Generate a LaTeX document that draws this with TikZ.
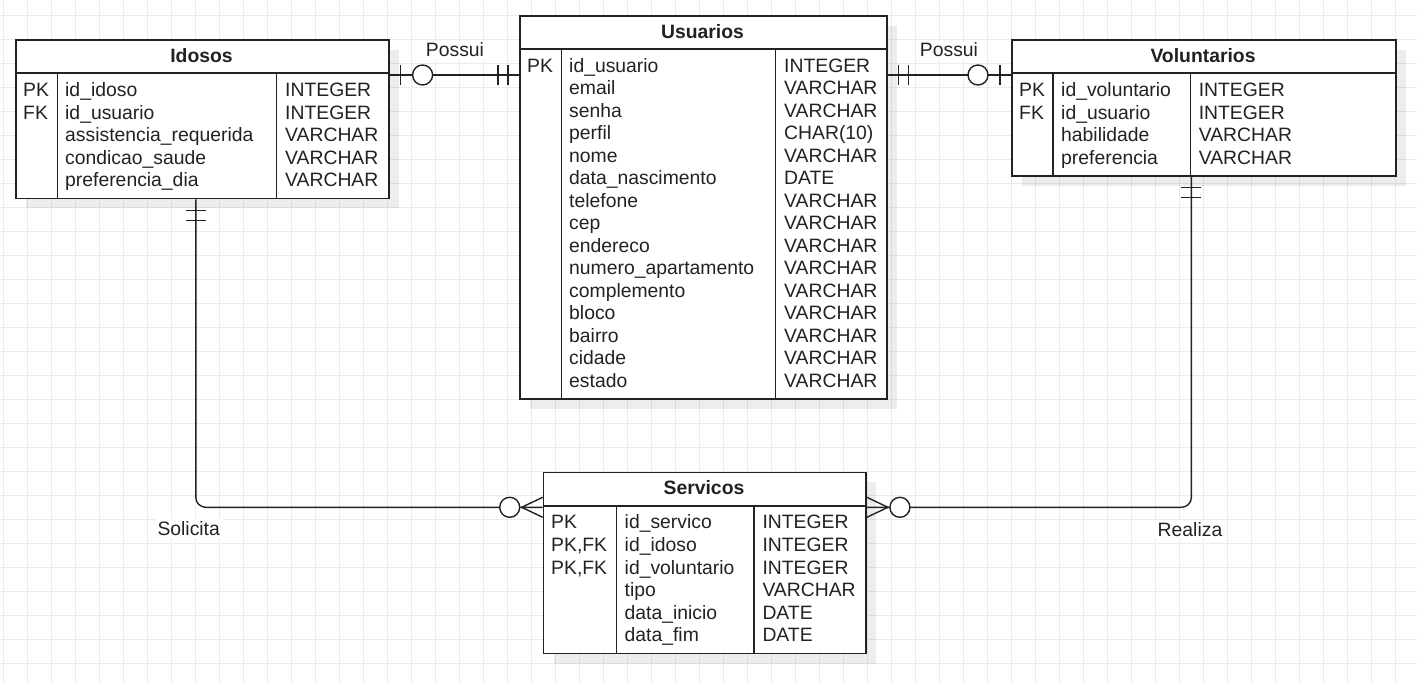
\documentclass[tikz,border=0pt]{standalone}
\usepackage{fontspec}
\setmainfont{Liberation Sans}
\usetikzlibrary{shadows}
\definecolor{ink}{HTML}{222222}
\definecolor{gridc}{HTML}{EBEBEB}
\tikzset{
  gridline/.style={draw=gridc, line width=1.2pt},
  tbl/.style={draw=ink, fill=white, line width=1.6pt, rectangle, inner sep=0pt, anchor=north west,
    drop shadow={shadow xshift=10pt, shadow yshift=-10pt, fill=black, opacity=0.07}},
  tline/.style={draw=ink, line width=1.4pt},
  cell/.style={anchor=base west, inner sep=0pt, font=\fontsize{19.35}{22}\selectfont, text=ink},
  ttl/.style={anchor=base, inner sep=0pt, font=\fontsize{19.35}{22}\selectfont\bfseries, text=ink},
  conn/.style={draw=ink, line width=1.4pt},
  lbl/.style={anchor=base, fill=white, inner xsep=3pt, inner ysep=2pt, font=\fontsize{19.35}{22}\selectfont, text=ink},
  ermandone/.pic={\draw[conn] (11,-10) -- (11,10) (21,-10) -- (21,10);},
  erzeroone/.pic={\draw[conn] (11,-10) -- (11,10); \draw[conn, fill=white] (33,0) circle[radius=10pt];},
  erzeromany/.pic={\draw[conn] (0,-10) -- (21,0) -- (0,10); \draw[conn, fill=white] (33,0) circle[radius=10pt];}
}
\begin{document}
\begin{tikzpicture}[x=1pt, y=-1pt]
\useasboundingbox (0,0) rectangle (1417,684);
\fill[white] (0,0) rectangle (1417,684);
% grid
\foreach \i in {0,...,58} \draw[gridline] ({3.3+24*\i},0) -- ({3.3+24*\i},684);
\foreach \j in {0,...,27} \draw[gridline] (0,{15.7+24*\j}) -- (1417,{15.7+24*\j});

% ---------- Idosos ----------
\node[tbl, minimum width=373pt, minimum height=158.7pt] (idosos) at (15,39) {};
\draw[tline] (15,73) -- (388,73);
\draw[tline] (57.3,73) -- (57.3,197.7);
\draw[tline] (276.7,73) -- (276.7,197.7);
\node[ttl] (ido-title) at (201.5,62.3) {Idosos};
\foreach \k/\n/\t [count=\i from 0] in {PK/id\_idoso/INTEGER, FK/id\_usuario/INTEGER, /assistencia\_requerida/VARCHAR, /condicao\_saude/VARCHAR, /preferencia\_dia/VARCHAR}{
  \node[cell] (ido-k\i) at (23,{96.7+22.45*\i}) {\k};
  \node[cell] (ido-n\i) at (65,{96.7+22.45*\i}) {\n};
  \node[cell] (ido-t\i) at (285,{96.7+22.45*\i}) {\t};
}

% ---------- Usuarios ----------
\node[tbl, minimum width=367pt, minimum height=383.5pt] (usuarios) at (519,15) {};
\draw[tline] (519,49) -- (886,49);
\draw[tline] (561.4,49) -- (561.4,398.5);
\draw[tline] (775.7,49) -- (775.7,398.5);
\node[ttl] (usu-title) at (702.5,38.5) {Usuarios};
\foreach \k/\n/\t [count=\i from 0] in {PK/id\_usuario/INTEGER, /email/VARCHAR, /senha/VARCHAR, /perfil/{CHAR(10)}, /nome/VARCHAR, /data\_nascimento/DATE, /telefone/VARCHAR, /cep/VARCHAR, /endereco/VARCHAR, /numero\_apartamento/VARCHAR, /complemento/VARCHAR, /bloco/VARCHAR, /bairro/VARCHAR, /cidade/VARCHAR, /estado/VARCHAR}{
  \node[cell] (usu-k\i) at (527,{72.5+22.5*\i}) {\k};
  \node[cell] (usu-n\i) at (569,{72.5+22.5*\i}) {\n};
  \node[cell] (usu-t\i) at (784,{72.5+22.5*\i}) {\t};
}

% ---------- Voluntarios ----------
\node[tbl, minimum width=384pt, minimum height=136.2pt] (voluntarios) at (1011,39) {};
\draw[tline] (1011,73) -- (1395,73);
\draw[tline] (1053,73) -- (1053,175.2);
\draw[tline] (1190.6,73) -- (1190.6,175.2);
\node[ttl] (vol-title) at (1203,62.3) {Voluntarios};
\foreach \k/\n/\t [count=\i from 0] in {PK/id\_voluntario/INTEGER, FK/id\_usuario/INTEGER, /habilidade/VARCHAR, /preferencia/VARCHAR}{
  \node[cell] (vol-k\i) at (1019,{96.7+22.5*\i}) {\k};
  \node[cell] (vol-n\i) at (1061,{96.7+22.5*\i}) {\n};
  \node[cell] (vol-t\i) at (1198.6,{96.7+22.5*\i}) {\t};
}

% ---------- Servicos ----------
\node[tbl, minimum width=322.6pt, minimum height=181pt] (servicos) at (542.7,471.7) {};
\draw[tline] (542.7,506) -- (865.3,506);
\draw[tline] (616.7,506) -- (616.7,652.7);
\draw[tline] (754,506) -- (754,652.7);
\node[ttl] (ser-title) at (704,494.5) {Servicos};
\foreach \k/\n/\t [count=\i from 0] in {PK/id\_servico/INTEGER, {PK,FK}/id\_idoso/INTEGER, {PK,FK}/id\_voluntario/INTEGER, /tipo/VARCHAR, /data\_inicio/DATE, /data\_fim/DATE}{
  \node[cell] (ser-k\i) at (551,{529+22.5*\i}) {\k};
  \node[cell] (ser-n\i) at (624.5,{529+22.5*\i}) {\n};
  \node[cell] (ser-t\i) at (762.3,{529+22.5*\i}) {\t};
}

% ---------- connectors ----------
\coordinate (a1) at ([yshift=-36pt]idosos.north east);
\coordinate (a2) at (a1 -| usuarios.west);
\draw[conn] (a1) -- (a2);
\pic at (a1) {erzeroone};
\pic[rotate=180] at (a2) {ermandone};

\coordinate (b1) at ([yshift=-60pt]usuarios.north east);
\coordinate (b2) at (b1 -| voluntarios.west);
\draw[conn] (b1) -- (b2);
\pic at (b1) {ermandone};
\pic[rotate=180] at (b2) {erzeroone};

\coordinate (c1) at ([xshift=-6.5pt]idosos.south);
\coordinate (c2) at ([yshift=-35.6pt]servicos.north west);
\draw[conn, rounded corners=10pt] (c1) |- (c2);
\pic[rotate=-90] at (c1) {ermandone};
\pic[rotate=180] at (c2) {erzeromany};

\coordinate (d1) at ([xshift=-12.4pt]voluntarios.south);
\coordinate (d2) at ([yshift=-35.6pt]servicos.north east);
\draw[conn, rounded corners=10pt] (d1) |- (d2);
\pic[rotate=-90] at (d1) {ermandone};
\pic at (d2) {erzeromany};

% ---------- labels ----------
\node[lbl] (l1) at (455,57) {Possui};
\node[lbl] (l2) at (949,57) {Possui};
\node[lbl] (l3) at (188.7,535.5) {Solicita};
\node[lbl] (l4) at (1190,536) {Realiza};
\end{tikzpicture}
\end{document}
